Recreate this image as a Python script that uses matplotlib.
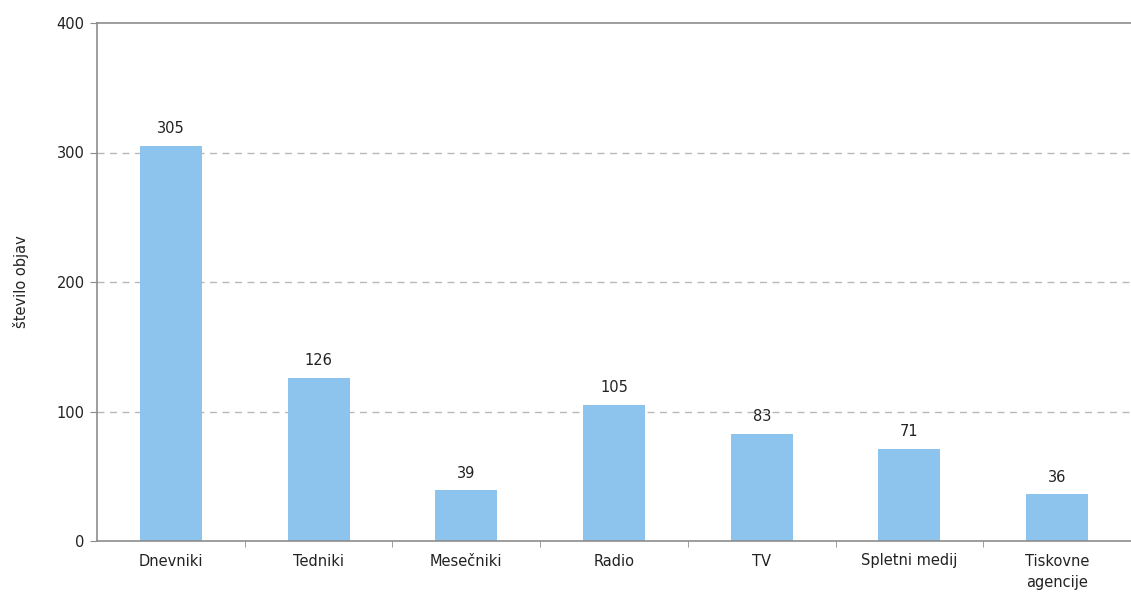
import matplotlib.pyplot as plt
import numpy as np

categories = ["Dnevniki", "Tedniki", "Mesečniki", "Radio", "TV",
              "Spletni medij", "Tiskovne\nagencije"]
counts = [305, 126, 39, 105, 83, 71, 36]
y_ticks = [0, 100, 200, 300, 400]

axis_grey = "#8c8c8c"
bar_blue = "#8cc4ee"
text_col = "#222222"
fs = 10.5

fig = plt.figure(figsize=(11.31, 5.99), dpi=100)
ax = fig.add_axes([97 / 1131, 58 / 599, 1 - 97 / 1131, (541 - 23) / 599])

x = np.arange(len(categories))
ax.bar(x, counts, width=0.42, color=bar_blue, zorder=2)
for xi, v in zip(x, counts):
    ax.annotate(str(v), (xi, v), xytext=(0, 7), textcoords="offset points",
                ha="center", va="bottom", fontsize=fs, color=text_col)

ax.set_xlim(-0.5, len(categories) - 0.5)
ax.set_ylim(0, 400)
ax.set_yticks(y_ticks)
ax.set_xticks(x)
ax.set_xticklabels(categories, fontsize=fs, color=text_col, linespacing=1.5)
ax.set_xticks(x[:-1] + 0.5, minor=True)
ax.tick_params(axis="x", which="major", length=0, pad=9)
ax.tick_params(axis="x", which="minor", length=4, color=axis_grey, direction="out")
ax.tick_params(axis="y", length=5, color=axis_grey, labelsize=fs,
               labelcolor=text_col, pad=4)

# dashed guides only inside the plot, not over the top border
for yv in y_ticks[1:-1]:
    ax.axhline(yv, linestyle=(0, (5, 4)), color="#b8b8b8", linewidth=1, zorder=1)

ax.spines["right"].set_visible(False)
for side in ["left", "bottom", "top"]:
    ax.spines[side].set_color(axis_grey)
    ax.spines[side].set_linewidth(1.2)

ax.set_ylabel("število objav", fontsize=fs, color=text_col, labelpad=20)

fig.savefig("out.png", dpi=100)
